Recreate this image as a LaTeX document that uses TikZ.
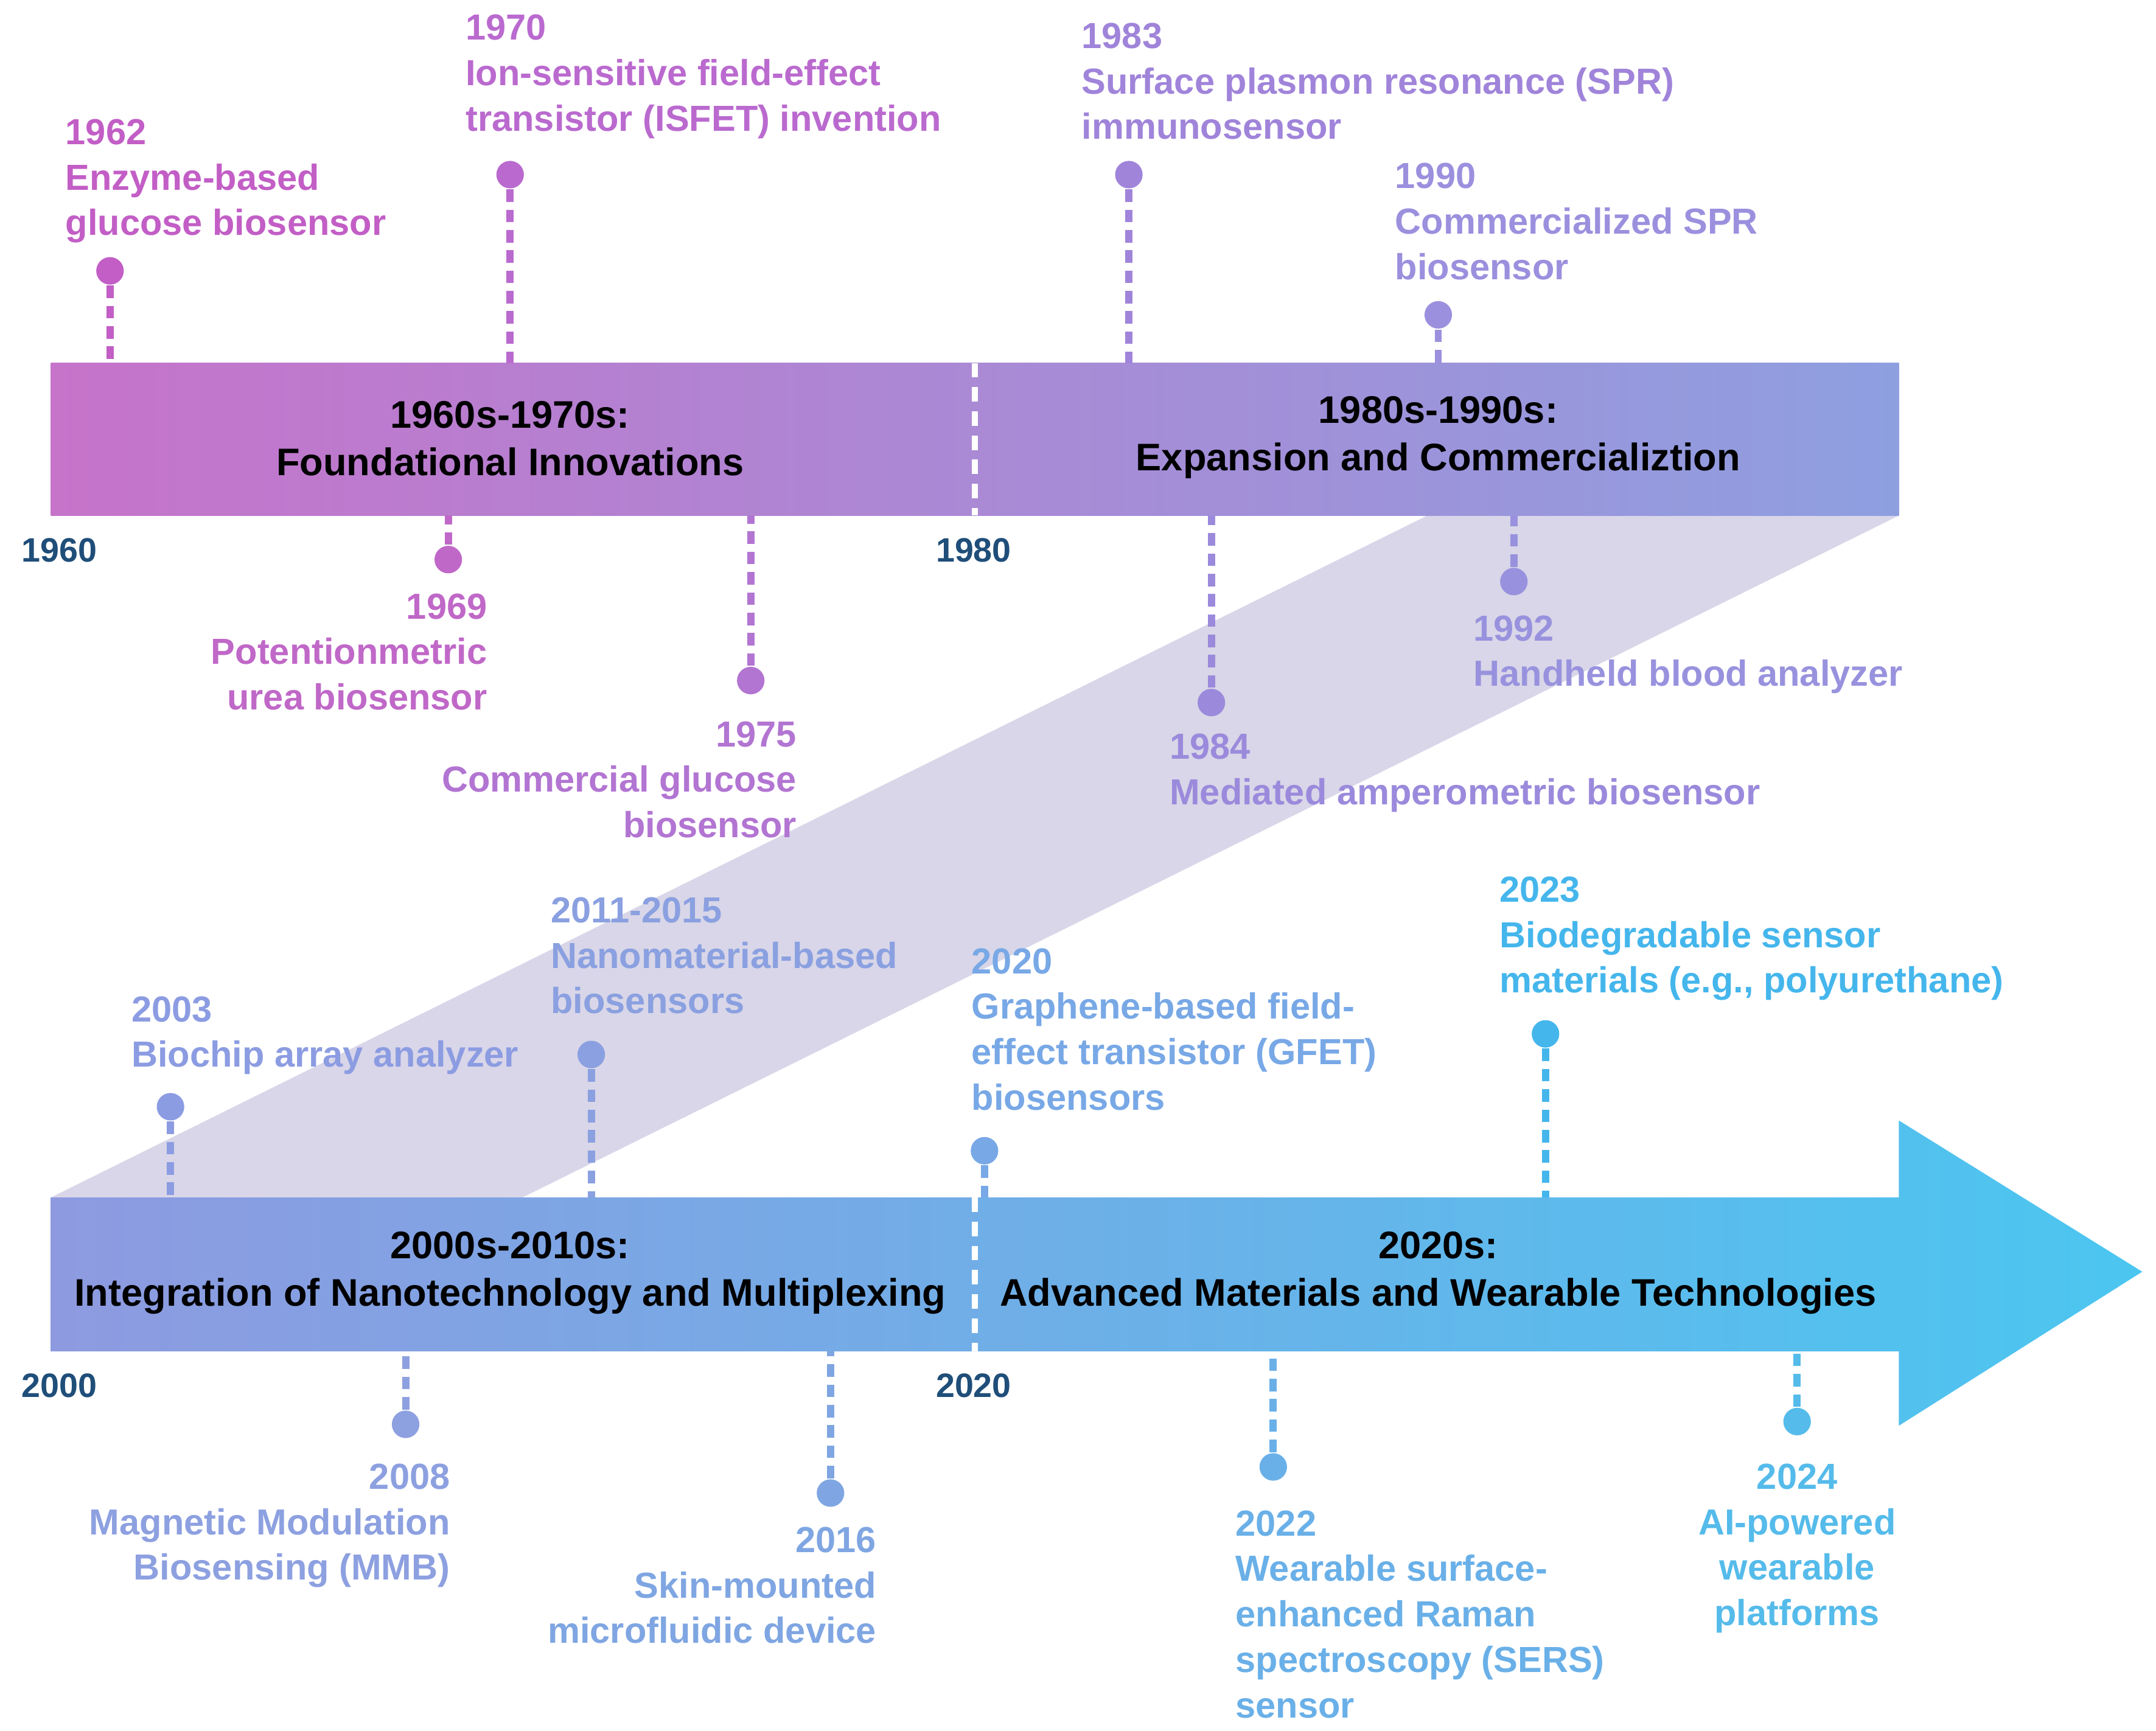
\documentclass[tikz,border=0pt]{standalone}
\usepackage{fontspec}
\setmainfont{Liberation Sans}
\begin{document}
\begin{tikzpicture}[x=0.01cm,y=-0.01cm,
 lbl/.style={inner sep=0pt,font=\bfseries\fontsize{7.5}{9.4}\selectfont},
 ttl/.style={inner sep=0pt,align=center,font=\bfseries\fontsize{7.95}{9.8}\selectfont,text=black},
 yr/.style={inner sep=0pt,font=\bfseries\fontsize{7}{8}\selectfont,text=yrc},
 stem/.style={line width=1.5pt,dash pattern=on 2.6pt off 1.6pt},
 dot/.style={circle,inner sep=0pt,minimum size=0.2cm}]
\definecolor{yrc}{HTML}{1F4E79}
\useasboundingbox (0,0) rectangle (1568,1259);
\fill[fill={rgb,255:red,216;green,214;blue,232}] (37,871) -- (1038,375) -- (1381,375) -- (380,871) -- cycle;
\shade[left color={rgb,255:red,198;green,115;blue,202},right color={rgb,255:red,142;green,159;blue,224}] (37,264) rectangle (1381,375);
\shade[left color={rgb,255:red,142;green,154;blue,224},right color={rgb,255:red,75;green,198;blue,240}] (37,871) -- (1381,871) -- (1381,815) -- (1558,925) -- (1381,1037) -- (1381,983) -- (37,983) -- cycle;
\coordinate (d1a) at (709,264); \coordinate (d1b) at (709,375);
\coordinate (d2a) at (709,871); \coordinate (d2b) at (709,983);
\draw[white,line width=1.3pt,dash pattern=on 3pt off 2pt] (d1a) -- (d1b);
\draw[white,line width=1.3pt,dash pattern=on 3pt off 2pt] (d2a) -- (d2b);
\node[ttl] (t1) at (371,319) {1960s-1970s:\\Foundational Innovations};
\node[ttl] (t2) at (1046,318) {1980s-1990s:\\Expansion and Commercializtion};
\node[ttl] (t3) at (371,926) {2000s-2010s:\\Integration of Nanotechnology and Multiplexing};
\node[ttl] (t4) at (1046,926) {2020s:\\Advanced Materials and Wearable Technologies};
\node[yr,anchor=west] (y1) at (15,400) {1960};
\node[yr,anchor=west] (y2) at (680,400) {1980};
\node[yr,anchor=west] (y3) at (15,1008) {2000};
\node[yr,anchor=west] (y4) at (680,1008) {2020};
\newcommand\evt[5]{%
 \definecolor{c#1}{HTML}{#5}%
 \node[dot,fill=c#1] (#1) at (#2,#3) {};
 \coordinate (#1b) at (#2,#4);
 \draw[stem,c#1] (#1) -- (#1b);}
\evt{e62}{80}{197}{264}{C25EC6}
\evt{e70}{371}{127}{264}{BA6ACF}
\evt{e83}{821}{127}{264}{A084DA}
\evt{e90}{1046}{229}{264}{9B90DE}
\evt{e69}{326}{407}{375}{C068C8}
\evt{e75}{546}{495}{375}{B275D2}
\evt{e84}{881}{511}{375}{9B8ADC}
\evt{e92}{1101}{423}{375}{9892DE}
\evt{e03}{124}{805}{871}{8C9CE2}
\evt{e11}{430}{767}{871}{8AA0E0}
\evt{e20}{716}{837}{871}{78A8E6}
\evt{e23}{1124}{752}{871}{45B6EC}
\evt{e08}{295}{1036}{983}{8DA0E0}
\evt{e16}{604}{1086}{983}{7FA6E2}
\evt{e22}{926}{1067}{983}{6AB0E8}
\evt{e24}{1307}{1034}{983}{55BBEA}
\node[lbl,text=ce62,anchor=north west,align=left] (l62) at (47,86) {1962\\Enzyme-based\\glucose biosensor};
\node[lbl,text=ce70,anchor=north west,align=left] (l70) at (338,10) {1970\\Ion-sensitive field-effect\\transistor (ISFET) invention};
\node[lbl,text=ce83,anchor=north west,align=left] (l83) at (786,16) {1983\\Surface plasmon resonance (SPR)\\immunosensor};
\node[lbl,text=ce90,anchor=north west,align=left] (l90) at (1014,118) {1990\\Commercialized SPR\\biosensor};
\node[lbl,text=ce69,anchor=north east,align=right] (l69) at (355,431) {1969\\Potentionmetric\\urea biosensor};
\node[lbl,text=ce75,anchor=north east,align=right] (l75) at (580,524) {1975\\Commercial glucose\\biosensor};
\node[lbl,text=ce84,anchor=north west,align=left] (l84) at (850,533) {1984\\Mediated amperometric biosensor};
\node[lbl,text=ce92,anchor=north west,align=left] (l92) at (1071,447) {1992\\Handheld blood analyzer};
\node[lbl,text=ce03,anchor=north west,align=left] (l03) at (95,724) {2003\\Biochip array analyzer};
\node[lbl,text=ce11,anchor=north west,align=left] (l11) at (400,652) {2011-2015\\Nanomaterial-based\\biosensors};
\node[lbl,text=ce20,anchor=north west,align=left] (l20) at (706,689) {2020\\Graphene-based field-\\effect transistor (GFET)\\biosensors};
\node[lbl,text=ce23,anchor=north west,align=left] (l23) at (1090,637) {2023\\Biodegradable sensor\\materials (e.g., polyurethane)};
\node[lbl,text=ce08,anchor=north east,align=right] (l08) at (328,1064) {2008\\Magnetic Modulation\\Biosensing (MMB)};
\node[lbl,text=ce16,anchor=north east,align=right] (l16) at (638,1110) {2016\\Skin-mounted\\microfluidic device};
\node[lbl,text=ce22,anchor=north west,align=left] (l22) at (898,1098) {2022\\Wearable surface-\\enhanced Raman\\spectroscopy (SERS)\\sensor};
\node[lbl,text=ce24,anchor=north,align=center] (l24) at (1307,1064) {2024\\AI-powered\\wearable\\platforms};
\end{tikzpicture}
\end{document}
